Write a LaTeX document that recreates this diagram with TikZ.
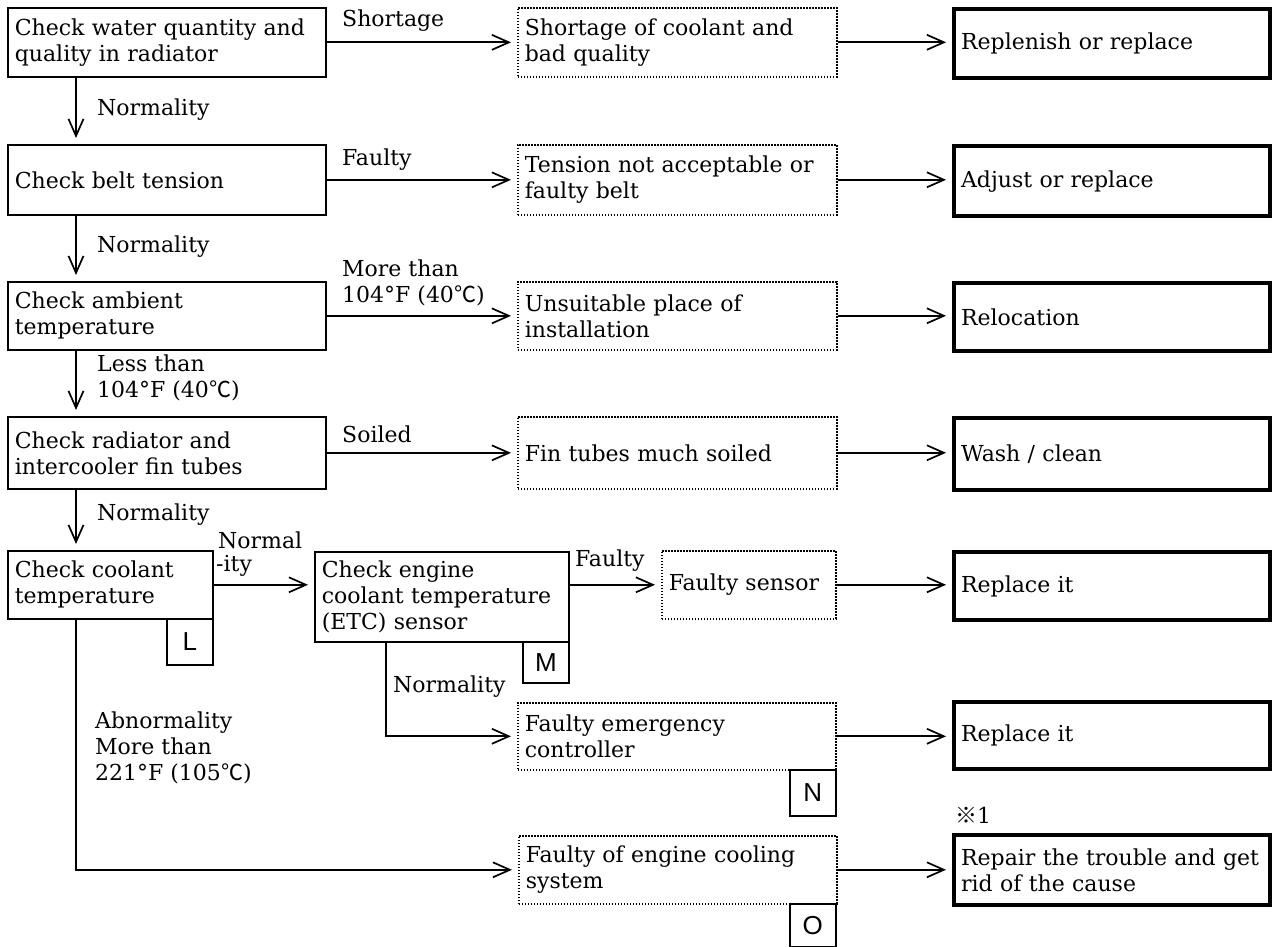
\documentclass[tikz,border=0pt]{standalone}
\usepackage{fontspec}
\setmainfont{DejaVu Serif}
\setsansfont{Liberation Sans}
\newfontfamily\cjkfont{Noto Sans CJK JP}
\usetikzlibrary{arrows.meta,calc}
\newcommand{\myDegC}{{\cjkfont ℃}}
\newcommand{\myRef}{{\cjkfont ※}}
\begin{document}
\begin{tikzpicture}[x=1pt,y=-1pt,
  txt/.style={font=\fontsize{22}{26}\selectfont},
  base/.style={txt, anchor=north west, inner xsep=7pt, inner ysep=0pt, align=left},
  solidbox/.style={base, draw, line width=1.7pt},
  dotbox/.style={base, draw, line width=1.6pt, dash pattern=on 1.6pt off 1.4pt},
  thickbox/.style={base, draw, line width=4.2pt},
  tag/.style={draw, line width=1.7pt, anchor=north west, inner sep=0pt,
    font=\sffamily\fontsize{26}{26}\selectfont, minimum width=46pt, minimum height=43pt},
  lbl/.style={txt, anchor=west, inner sep=0pt, align=left},
  conn/.style={line width=1.7pt},
  arr/.style={conn, -{Straight Barb[length=17pt,width=15pt,line width=1.7pt]}, shorten >=6pt}]
\useasboundingbox (0,0) rectangle (1272,947);
\coordinate (vx) at (76,0);
\coordinate (ex) at (386,0);
% left column
\node[solidbox, text width=304pt, minimum height=69pt] (a1) at (7,7) {Check water quantity and\\quality in radiator};
\node[solidbox, text width=304pt, minimum height=70pt] (a2) at (7,144) {Check belt tension};
\node[solidbox, text width=304pt, minimum height=68pt] (a3) at (7,281) {Check ambient\\temperature};
\node[solidbox, text width=304pt, minimum height=72pt] (a4) at (7,416) {Check radiator and\\intercooler fin tubes};
\node[solidbox, text width=191pt, minimum height=68pt] (a5) at (7,550) {Check coolant\\temperature};
\node[solidbox, text width=240pt, minimum height=90pt] (m1) at (314,551) {Check engine\\coolant temperature\\(ETC) sensor};
% middle column
\node[dotbox, text width=305pt, minimum height=69pt] (b1) at (517,7) {Shortage of coolant and\\bad quality};
\node[dotbox, text width=305pt, minimum height=70pt] (b2) at (517,144) {Tension not acceptable or\\faulty belt};
\node[dotbox, text width=305pt, minimum height=68pt] (b3) at (517,281) {Unsuitable place of\\installation};
\node[dotbox, text width=305pt, minimum height=72pt] (b4) at (517,416) {Fin tubes much soiled};
\node[dotbox, text width=160pt, minimum height=68pt] (b5) at (661,550) {Faulty sensor};
\node[dotbox, text width=304pt, minimum height=67pt] (b6) at (517,702) {Faulty emergency\\controller};
\node[dotbox, text width=304pt, minimum height=68pt] (b7) at (518,835) {Faulty of engine cooling\\system};
% right column
\node[thickbox, text width=302pt, minimum height=69pt] (c1) at (952,7) {Replenish or replace};
\node[thickbox, text width=302pt, minimum height=70pt] (c2) at (952,144) {Adjust or replace};
\node[thickbox, text width=302pt, minimum height=68pt] (c3) at (952,281) {Relocation};
\node[thickbox, text width=302pt, minimum height=72pt] (c4) at (952,416) {Wash / clean};
\node[thickbox, text width=302pt, minimum height=68pt] (c5) at (952,550) {Replace it};
\node[thickbox, text width=302pt, minimum height=67pt] (c6) at (952,700) {Replace it};
\node[thickbox, text width=302pt, minimum height=70pt] (c7) at (952,833) {Repair the trouble and get\\rid of the cause};
% tags
\node[tag, minimum height=46pt] (tL) at (166,618) {L};
\node[tag, minimum height=41pt] (tM) at (522,641) {M};
\node[tag, minimum height=46pt] (tN) at (789,769) {N};
\node[tag, minimum height=43pt] (tO) at (789,903) {O};
% vertical flow
\draw[arr] (a1.south -| vx) -- (a2.north -| vx);
\draw[arr] (a2.south -| vx) -- (a3.north -| vx);
\draw[arr] (a3.south -| vx) -- (a4.north -| vx);
\draw[arr] (a4.south -| vx) -- (a5.north -| vx);
% horizontal flows
\draw[arr] (a1.east) -- (a1.east -| b1.west);
\draw[arr] (b1.east) -- (b1.east -| c1.west);
\draw[arr] (a2.east) -- (a2.east -| b2.west);
\draw[arr] (b2.east) -- (b2.east -| c2.west);
\draw[arr] (a3.east) -- (a3.east -| b3.west);
\draw[arr] (b3.east) -- (b3.east -| c3.west);
\draw[arr] (a4.east) -- (a4.east -| b4.west);
\draw[arr] (b4.east) -- (b4.east -| c4.west);
\draw[arr] (a5.east |- b5.west) -- (b5.west -| m1.west);
\draw[arr] (b5.west -| m1.east) -- (b5.west);
\draw[arr] (b5.east) -- (b5.east -| c5.west);
\draw[arr] (m1.south -| ex) |- (b6.west);
\draw[arr] (b6.east) -- (b6.east -| c6.west);
\draw[arr] (a5.south -| vx) |- (b7.west);
\draw[arr] (b7.east) -- (b7.east -| c7.west);
% labels
\node[lbl] (l1) at (342,21) {Shortage};
\node[lbl] (l2) at (97,110) {Normality};
\node[lbl] (l3) at (342,160) {Faulty};
\node[lbl] (l4) at (97,247) {Normality};
\node[lbl] (l5) at (342,283) {More than\\104°F (40\myDegC)};
\node[lbl] (l6) at (97,378) {Less than\\104°F (40\myDegC)};
\node[lbl] (l7) at (342,434) {Soiled};
\node[lbl] (l8) at (97,515) {Normality};
\node[lbl] (l9) at (218,540) {Normal};
\node[lbl] (l10) at (216,566) {-ity};
\node[lbl] (l11) at (575,561) {Faulty};
\node[lbl] (l12) at (393,687) {Normality};
\node[lbl] (l13) at (95,748) {Abnormality\\More than\\221°F (105\myDegC)};
\node[lbl] (l14) at (955,815) {\myRef1};
\end{tikzpicture}
\end{document}
